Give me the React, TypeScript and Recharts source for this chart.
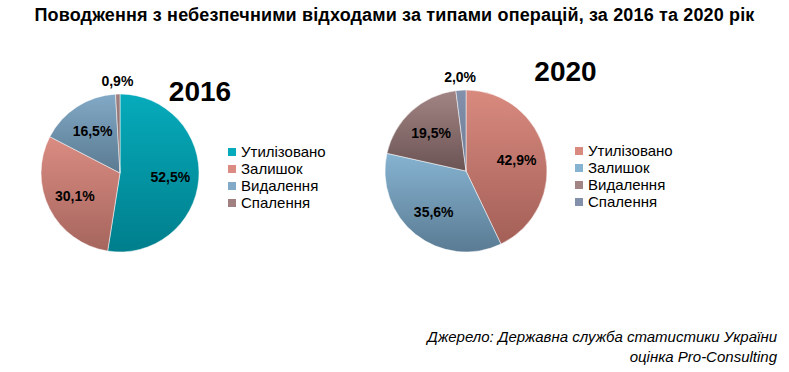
import React from 'react';
import { PieChart, Pie, Cell } from 'recharts';

const categories = ['Утилізовано', 'Залишок', 'Видалення', 'Спалення'];
const values2016 = [52.5, 30.1, 16.5, 0.9];
const values2020 = [42.9, 35.6, 19.5, 2.0];

const title = 'Поводження з небезпечними відходами за типами операцій, за 2016 та 2020 рік';
const sourceLine1 = 'Джерело: Державна служба статистики України';
const sourceLine2 = 'оцінка Pro-Consulting';

// gradient stops per slice: [top, bottom]
const colors2016 = [
    ['#06abbb', '#007e8c'],
    ['#da8c82', '#a5655d'],
    ['#82a9c6', '#5a7a91'],
    ['#a08080', '#7a5f5f'],
];
const colors2020 = [
    ['#d98a7f', '#a35f57'],
    ['#86b3d1', '#5a7b93'],
    ['#a28484', '#6c5454'],
    ['#8290ab', '#6f7c96'],
];

const data2016 = categories.map((name, i) => ({ name, value: values2016[i] }));
const data2020 = categories.map((name, i) => ({ name, value: values2020[i] }));

const RAD = Math.PI / 180;
const fmt = (v: number) => v.toFixed(1).replace('.', ',') + '%';

const renderLabel = (props: any) => {
    const { cx, cy, midAngle, outerRadius, value } = props;
    const r = value < 5 ? outerRadius + 13 : outerRadius * 0.64;
    const x = cx + r * Math.cos(-midAngle * RAD);
    const y = cy + r * Math.sin(-midAngle * RAD);
    return (
        <text
            x={x}
            y={y}
            textAnchor="middle"
            dominantBaseline="central"
            fill="#000"
            fontSize={14}
            fontWeight="bold"
            fontFamily="Liberation Sans, Arial, sans-serif"
        >
            {fmt(value)}
        </text>
    );
};

function Legend({ left, top, colors }: { left: number; top: number; colors: string[][] }) {
    return (
        <div style={{ position: 'absolute', left, top, fontFamily: 'Liberation Sans, Arial, sans-serif', fontSize: 15, color: '#000' }}>
            {categories.map((c, i) => (
                <div key={c} style={{ display: 'flex', alignItems: 'center', height: 17 }}>
                    <span style={{ width: 8, height: 8, background: colors[i][0], marginRight: 5, display: 'inline-block' }} />
                    <span>{c}</span>
                </div>
            ))}
        </div>
    );
}

export default function App() {
    return (
        <div style={{ position: 'absolute', left: 0, top: 0, width: 789, height: 372, background: '#fff', overflow: 'hidden' }}>
            <div style={{ position: 'absolute', left: 0, top: 5, width: 789, textAlign: 'center', fontFamily: 'Liberation Sans, Arial, sans-serif', fontWeight: 'bold', fontSize: 18, letterSpacing: 0.15, color: '#000' }}>
                {title}
            </div>
            <PieChart width={789} height={372} margin={{ top: 0, right: 0, bottom: 0, left: 0 }}>
                <defs>
                    {colors2016.map((c, i) => (
                        <linearGradient key={`a${i}`} id={`g16-${i}`} x1="0" y1="0" x2="0" y2="1">
                            <stop offset="0%" stopColor={c[0]} />
                            <stop offset="100%" stopColor={c[1]} />
                        </linearGradient>
                    ))}
                    {colors2020.map((c, i) => (
                        <linearGradient key={`b${i}`} id={`g20-${i}`} x1="0" y1="0" x2="0" y2="1">
                            <stop offset="0%" stopColor={c[0]} />
                            <stop offset="100%" stopColor={c[1]} />
                        </linearGradient>
                    ))}
                </defs>
                <Pie
                    data={data2016}
                    dataKey="value"
                    nameKey="name"
                    cx={120}
                    cy={173}
                    outerRadius={79}
                    startAngle={90}
                    endAngle={-270}
                    stroke="rgba(255,255,255,0.5)"
                    strokeWidth={1}
                    label={renderLabel}
                    labelLine={false}
                    isAnimationActive={false}
                >
                    {data2016.map((d, i) => (
                        <Cell key={d.name} fill={`url(#g16-${i})`} />
                    ))}
                </Pie>
                <Pie
                    data={data2020}
                    dataKey="value"
                    nameKey="name"
                    cx={466}
                    cy={171}
                    outerRadius={81}
                    startAngle={90}
                    endAngle={-270}
                    stroke="rgba(255,255,255,0.5)"
                    strokeWidth={1}
                    label={renderLabel}
                    labelLine={false}
                    isAnimationActive={false}
                >
                    {data2020.map((d, i) => (
                        <Cell key={d.name} fill={`url(#g20-${i})`} />
                    ))}
                </Pie>
            </PieChart>
            <div style={{ position: 'absolute', left: 168, top: 76, width: 64, textAlign: 'center', fontFamily: 'Liberation Sans, Arial, sans-serif', fontWeight: 'bold', fontSize: 28, lineHeight: '32px' }}>2016</div>
            <div style={{ position: 'absolute', left: 533, top: 56, width: 65, textAlign: 'center', fontFamily: 'Liberation Sans, Arial, sans-serif', fontWeight: 'bold', fontSize: 28, lineHeight: '32px' }}>2020</div>
            <Legend left={228} top={143} colors={colors2016} />
            <Legend left={575} top={142} colors={colors2020} />
            <div style={{ position: 'absolute', right: 12, top: 327, textAlign: 'right', fontFamily: 'Liberation Sans, Arial, sans-serif', fontStyle: 'italic', fontSize: 15, lineHeight: '20px', color: '#000' }}>
                <div>{sourceLine1}</div>
                <div>{sourceLine2}</div>
            </div>
        </div>
    );
}
